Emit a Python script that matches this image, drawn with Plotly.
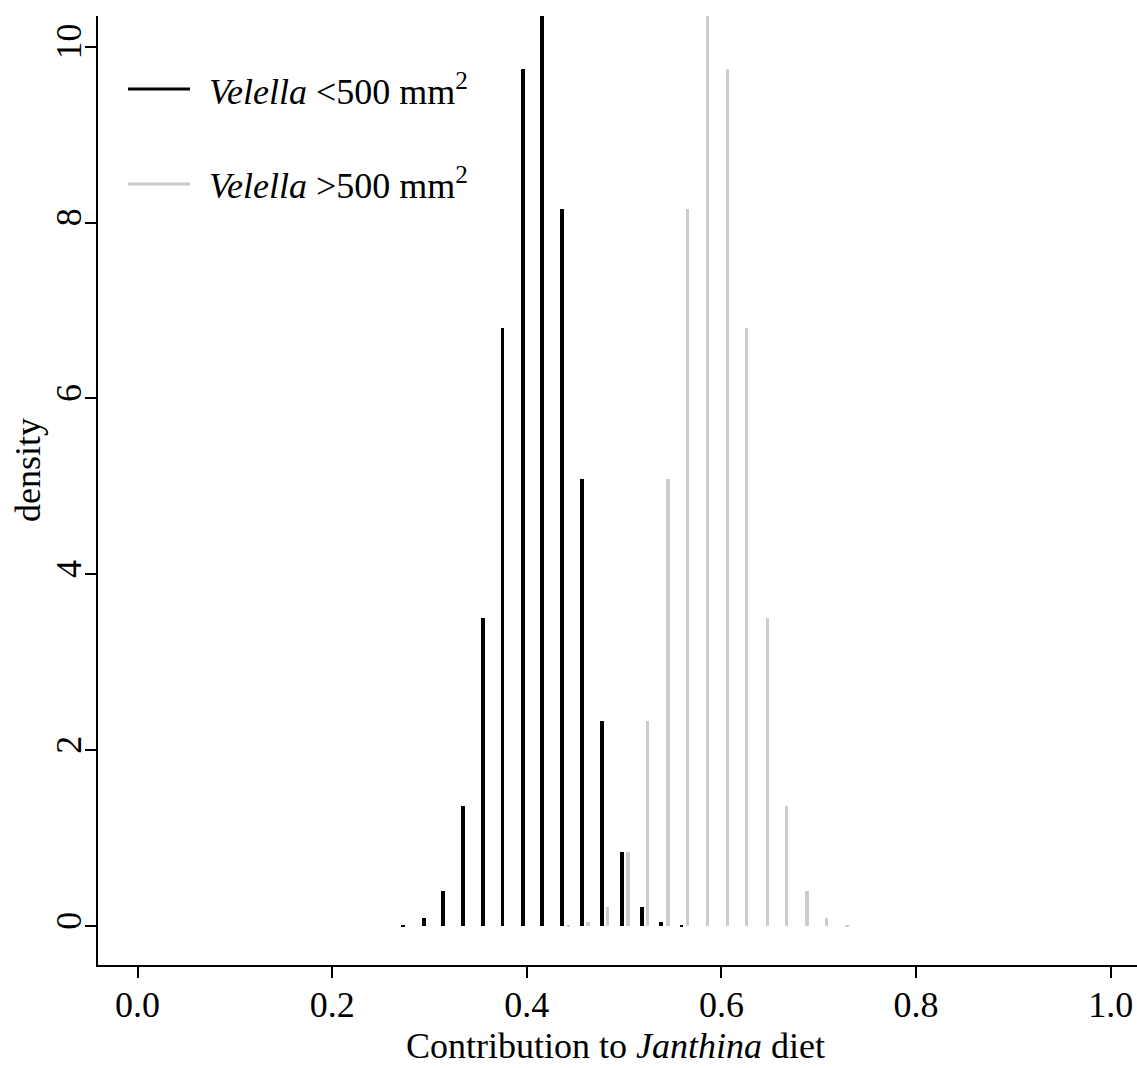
import plotly.graph_objects as go

# Data
small_x = [0.273, 0.294, 0.314, 0.334, 0.355, 0.375, 0.396, 0.416, 0.436, 0.457, 0.477, 0.498, 0.518, 0.538, 0.559]
small_y = [0.01, 0.09, 0.40, 1.36, 3.50, 6.80, 9.75, 10.35, 8.15, 5.08, 2.33, 0.84, 0.22, 0.05, 0.01]
large_x = [0.443, 0.463, 0.483, 0.504, 0.524, 0.545, 0.565, 0.586, 0.606, 0.626, 0.647, 0.667, 0.688, 0.708, 0.729]
large_y = [0.01, 0.05, 0.22, 0.84, 2.33, 5.08, 8.15, 10.35, 9.75, 6.80, 3.50, 1.36, 0.40, 0.09, 0.01]
x_ticks = [0.0, 0.2, 0.4, 0.6, 0.8, 1.0]
x_tick_text = ["0.0", "0.2", "0.4", "0.6", "0.8", "1.0"]
y_ticks = [0, 2, 4, 6, 8, 10]
legend_labels = ["<i>Velella</i> &lt;500 mm<sup>2</sup>", "<i>Velella</i> &gt;500 mm<sup>2</sup>"]
colors = ["#000000", "#cccccc"]

FONT = "Liberation Serif"
FS = 36

fig = go.Figure()
fig.add_trace(go.Bar(x=large_x, y=large_y, width=0.0034, marker=dict(color=colors[1], line=dict(width=0)),
                     showlegend=False))
fig.add_trace(go.Bar(x=small_x, y=small_y, width=0.0040, marker=dict(color=colors[0], line=dict(width=0)),
                     showlegend=False))

# manual legend
rows = [0.923, 0.823]
for lab, col, yy in zip(legend_labels, colors, rows):
    fig.add_shape(type="line", xref="paper", yref="paper", x0=0.0289, x1=0.0885, y0=yy, y1=yy,
                  line=dict(color=col, width=3))
    fig.add_annotation(xref="paper", yref="paper", x=0.105, y=yy, text=lab, showarrow=False,
                       xanchor="left", yanchor="middle", font=dict(family=FONT, size=FS, color="black"))

# axis titles
fig.add_annotation(xref="paper", yref="paper", x=0, y=0.5216, xshift=-70, text="density",
                   textangle=-90, showarrow=False, xanchor="center", yanchor="middle",
                   font=dict(family=FONT, size=FS, color="black"))
fig.add_annotation(xref="paper", yref="paper", x=0.4985, y=0, yshift=-102,
                   text="Contribution to <i>Janthina</i> diet",
                   showarrow=False, xanchor="center", yanchor="bottom", borderpad=0,
                   font=dict(family=FONT, size=FS, color="black"))

fig.update_layout(
    width=1137, height=1068,
    margin=dict(l=98, r=0, t=16, b=103),
    plot_bgcolor="white", paper_bgcolor="white",
    barmode="overlay", bargap=0,
    font=dict(family=FONT, size=FS, color="black"),
    showlegend=False,
)
fig.update_xaxes(
    range=[-0.0406, 1.027], tickvals=x_ticks, ticktext=x_tick_text,
    showgrid=False, zeroline=False, showline=True, linecolor="black", linewidth=2,
    ticks="outside", ticklen=11, tickwidth=2, tickcolor="black",
    tickfont=dict(family=FONT, size=FS), ticklabelstandoff=-4,
)
fig.update_yaxes(
    range=[-0.443, 10.35], tickvals=y_ticks, tickangle=-90,
    showgrid=False, zeroline=False, showline=True, linecolor="black", linewidth=2,
    ticks="outside", ticklen=11, tickwidth=2, tickcolor="black",
    tickfont=dict(family=FONT, size=FS), ticklabelstandoff=-10,
)

fig.write_html("out.html", config={"displayModeBar": False},
               post_script="document.body.style.margin='0';document.body.style.overflow='hidden';")
